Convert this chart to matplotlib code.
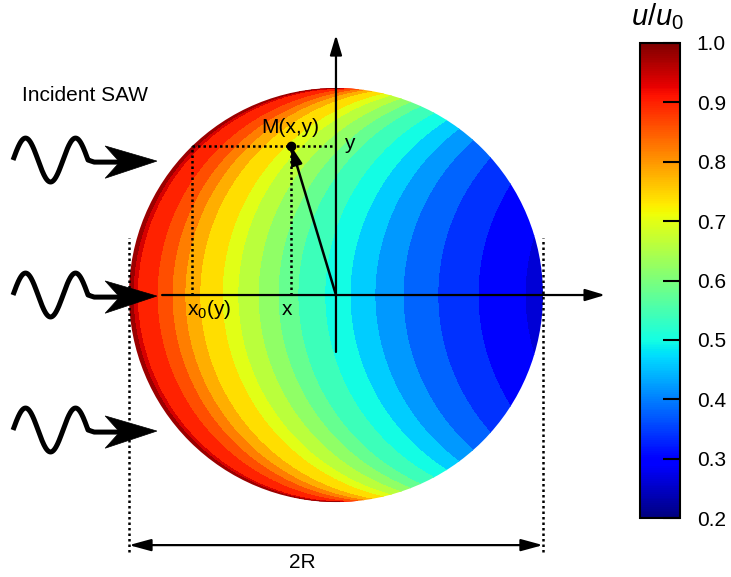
import numpy as np
import matplotlib
matplotlib.use("Agg")
import matplotlib.pyplot as plt
from matplotlib.cm import ScalarMappable
from matplotlib.colors import Normalize
from matplotlib.patches import Circle, Polygon, FancyArrowPatch

plt.rcParams["font.family"] = ["Liberation Sans", "DejaVu Sans"]
plt.rcParams["mathtext.fontset"] = "custom"
plt.rcParams["mathtext.rm"] = "Liberation Sans"
plt.rcParams["mathtext.it"] = "Liberation Sans:italic"

# amplitude u/u0 along the propagation path, distance from the entry
# point x0(y) given as a fraction of the diameter 2R
path_frac = [0.0, 0.02, 0.068, 0.104, 0.135, 0.171, 0.225, 0.263, 0.312, 0.36,
             0.408, 0.473, 0.534, 0.594, 0.662, 0.746, 0.843, 0.957, 1.0]
u_ratio = [1.0, 0.92, 0.88, 0.84, 0.80, 0.76, 0.72, 0.68, 0.64, 0.60,
           0.56, 0.52, 0.48, 0.44, 0.40, 0.36, 0.32, 0.28, 0.26]

u_min, u_max = 0.2, 1.0
cbar_ticks = [0.2, 0.3, 0.4, 0.5, 0.6, 0.7, 0.8, 0.9, 1.0]

# observation point M(x, y) in units of R
m_x, m_y = -0.217, 0.72
# rows of the incident SAW symbols
wave_rows = [0.652, 0.0, -0.652]

fig = plt.figure(figsize=(7.31, 5.77), dpi=100)
ax = fig.add_axes([0, 0, 620 / 731, 1])
ax.set_xlim(-1.623, 1.372)
ax.set_ylim(-1.362, 1.425)
ax.axis("off")

# field inside the disk: attenuation from the left rim along x
g = np.linspace(-1.0, 1.0, 601)
X, Y = np.meshgrid(g, g)
x0 = -np.sqrt(np.clip(1 - Y**2, 0, None))
U = np.interp((X - x0) / 2.0, path_frac, u_ratio)
levels = np.linspace(u_min, u_max, 21)
cs = ax.contourf(X, Y, U, levels=levels, cmap="jet", vmin=u_min, vmax=u_max)
disk = Circle((0, 0), 1.0, transform=ax.transData)
cs.set_clip_path(disk)

k = dict(color="k", zorder=5)


def arrow(p0, p1, style, lw=1.6, ms=12):
    a = FancyArrowPatch(p0, p1, arrowstyle=style, mutation_scale=ms,
                        lw=lw, shrinkA=0, shrinkB=0, **k)
    ax.add_patch(a)


# coordinate axes
arrow((-0.84, 0), (1.30, 0), "-|>,head_length=1.0,head_width=0.3")
arrow((0, -0.275), (0, 1.256), "-|>,head_length=1.0,head_width=0.3")

# point M and its construction lines
dot = (0, (1, 1.2))
xm0 = -np.sqrt(1 - m_y**2)
ax.plot([xm0, 0], [m_y, m_y], ls=dot, lw=1.8, **k)
ax.plot([xm0, xm0], [0, m_y], ls=dot, lw=1.8, **k)
ax.plot([m_x, m_x], [0, m_y], ls=dot, lw=1.8, **k)
arrow((0, 0), (m_x, m_y), "-|>,head_length=1.0,head_width=0.3", lw=1.8, ms=11)
ax.plot([m_x], [m_y], "o", ms=6, **k)

fs = 15
ax.text(m_x - 0.005, m_y + 0.09, "M(x,y)", ha="center", va="center", fontsize=fs)
ax.text(0.063, m_y + 0.014, "y", ha="center", va="center", fontsize=fs)
ax.text(xm0 + 0.08, -0.07, r"x$_0$(y)", ha="center", va="center", fontsize=fs)
ax.text(m_x - 0.02, -0.072, "x", ha="center", va="center", fontsize=fs)

# diameter marker
ax.plot([-1, -1], [-1.242, 0.275], ls=dot, lw=1.8, **k)
ax.plot([1, 1], [-1.242, 0.275], ls=dot, lw=1.8, **k)
arrow((-1, -1.208), (1, -1.208), "<|-|>,head_length=1.1,head_width=0.3")
ax.text(-0.164, -1.29, "2R", ha="center", va="center", fontsize=fs)

# incident SAW symbols
ax.text(-1.517, 0.966, "Incident SAW", ha="left", va="center", fontsize=fs)
amp, period, x_start = 0.106, 0.2415, -1.56
tip = -0.865
for yc in wave_rows:
    t = np.linspace(0, 1.5, 200)
    xw = x_start + t * period
    yw = yc + amp * np.sin(2 * np.pi * t)
    xw = np.append(xw, [xw[-1] + 0.03, tip - 0.17])
    yw = np.append(yw, [yc - 0.01, yc - 0.01])
    ax.plot(xw, yw, lw=3.6, solid_joinstyle="round", solid_capstyle="butt", **k)
    head = Polygon([(tip, yc - 0.005), (tip - 0.25, yc + 0.068),
                    (tip - 0.18, yc - 0.01), (tip - 0.25, yc - 0.088)],
                   closed=True, fc="k", ec="k", lw=0.5, zorder=5)
    ax.add_patch(head)

# colour bar
cax = fig.add_axes([640 / 731, 59 / 577, 40 / 731, 475 / 577])
sm = ScalarMappable(norm=Normalize(u_min, u_max), cmap="jet")
cb = fig.colorbar(sm, cax=cax, ticks=cbar_ticks)
cb.ax.set_yticklabels([f"{v:.1f}" for v in cbar_ticks])
cb.outline.set_linewidth(1.5)
cax.tick_params(direction="in", length=12, width=1.5, labelsize=fs, pad=12)
fig.text(657 / 731, 1 - 25 / 577, r"$u/u_0$", ha="center", va="baseline",
         fontsize=21)

fig.savefig("out.png", dpi=100)
